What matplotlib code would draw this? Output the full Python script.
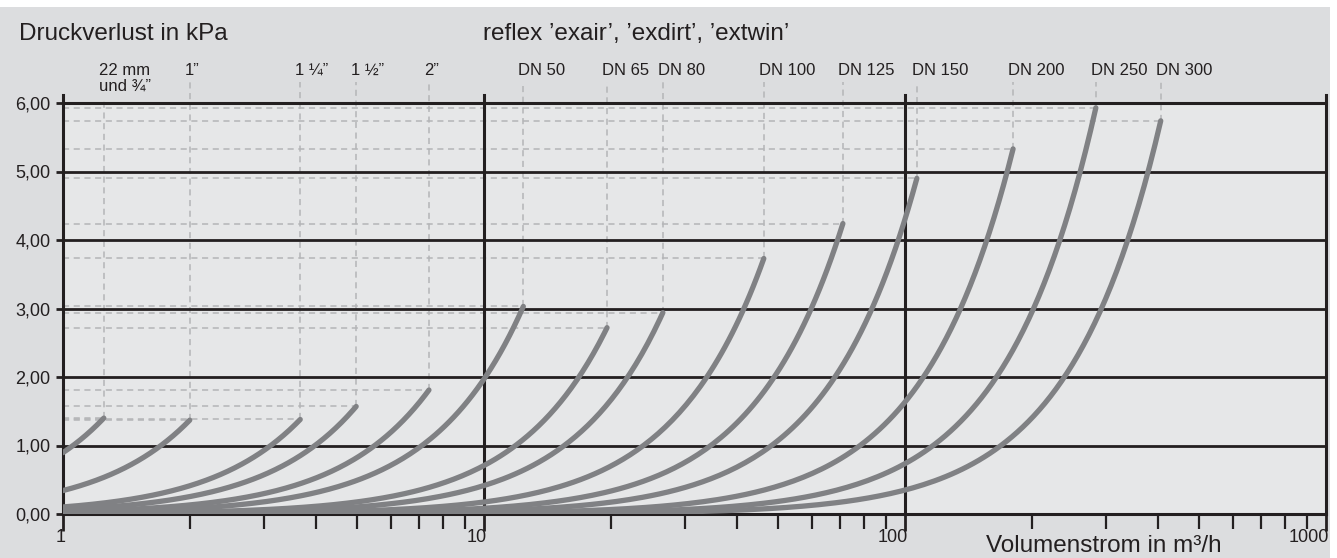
import numpy as np
import matplotlib
matplotlib.use("Agg")
import matplotlib.pyplot as plt
from matplotlib.patches import Rectangle
from matplotlib.transforms import offset_copy, blended_transform_factory

plt.rcParams["font.family"] = ["Liberation Sans", "DejaVu Sans"]

# pipe sizes, end point of each curve (max flow in m3/h, pressure drop in kPa)
pipe_labels = ["22 mm\nund ¾”", "1”", "1 ¼”", "1 ½”", "2”",
               "DN 50", "DN 65", "DN 80", "DN 100", "DN 125",
               "DN 150", "DN 200", "DN 250", "DN 300"]
q_max = [1.25, 2.0, 3.66, 4.97, 7.4, 12.4, 19.6, 26.6, 46.2, 71.2,
         106.7, 180.6, 284, 405]
dp_max = [1.40, 1.37, 1.38, 1.57, 1.81, 3.03, 2.72, 2.94, 3.73, 4.24,
          4.90, 5.33, 5.93, 5.74]

y_ticks = [0, 1, 2, 3, 4, 5, 6]
x_decades = [1, 10, 100, 1000]

INK = "#231f20"
CURVE = "#808184"
DASH = "#b4b5b7"

fig = plt.figure(figsize=(13.37, 5.58), dpi=100, facecolor="white")
fig.patches.append(Rectangle((0, 0), 1330 / 1337, 551 / 558, transform=fig.transFigure,
                             facecolor="#dcdddf", edgecolor="none", zorder=-10))

ax = fig.add_axes([63 / 1337, 1 - 514 / 558, (1326 - 63) / 1337, (514 - 103) / 558])
ax.set_facecolor("#e6e7e8")
ax.set_xscale("log")
ax.set_xlim(1, 1000)
ax.set_ylim(0, 6)

for s in ["left", "right"]:
    ax.spines[s].set_visible(False)
for s in ["top", "bottom"]:
    ax.spines[s].set_color(INK)
    ax.spines[s].set_linewidth(2.2)

# black grid
for v in y_ticks[1:-1]:
    ax.axhline(v, color=INK, lw=2.0, zorder=2)
for d in x_decades:
    ax.axvline(d, ymin=0, ymax=1 + 8 / 411, color=INK, lw=2.2, clip_on=False, zorder=2)

# dashed guides + curves
for lab, q, dp in zip(pipe_labels, q_max, dp_max):
    top = 6.08 if "\n" in lab else 6.31
    ax.plot([q, q], [dp, top], color=DASH, lw=1.1, dashes=(4, 3), clip_on=False, zorder=1)
    ax.plot([1, q], [dp, dp], color=DASH, lw=1.1, dashes=(4, 3), zorder=1)
    k = dp / q ** 2
    qq = np.logspace(0, np.log10(q), 200)
    ax.plot(qq, k * qq ** 2, color=CURVE, lw=3.8, solid_capstyle="round", zorder=3)
    for i, line in enumerate(lab.split("\n")):
        ax.annotate(line, xy=(q, 6), xytext=(-5, 28 - 16 * i), textcoords="offset pixels",
                    ha="left", va="baseline", fontsize=12, color=INK, annotation_clip=False)

# y axis ticks
ax.set_yticks(y_ticks)
ax.set_yticklabels([f"{v:.2f}".replace(".", ",") for v in y_ticks])
ax.tick_params(axis="y", length=5, width=2, color=INK, pad=4, labelsize=13, labelcolor=INK)

# x axis ticks
ax.xaxis.set_major_locator(matplotlib.ticker.FixedLocator(x_decades))
ax.xaxis.set_minor_locator(matplotlib.ticker.LogLocator(base=10, subs=np.arange(2, 10)))
ax.xaxis.set_major_formatter(matplotlib.ticker.NullFormatter())
ax.xaxis.set_minor_formatter(matplotlib.ticker.NullFormatter())
ax.tick_params(axis="x", which="major", length=12, width=2, color=INK)
ax.tick_params(axis="x", which="minor", length=11, width=1.6, color=INK)
tr = offset_copy(blended_transform_factory(ax.transData, ax.transAxes), fig=fig, x=3, y=-24, units="dots")
for d in x_decades:
    ax.text(d, 0, str(d), transform=tr, ha="right", va="center", fontsize=13, color=INK)

fig.text(19 / 1337, 1 - 40 / 558, "Druckverlust in kPa", fontsize=17.5, color=INK, va="baseline")
fig.text(483 / 1337, 1 - 40 / 558, "reflex ’exair’, ’exdirt’, ’extwin’", fontsize=17.5,
         color=INK, va="baseline")
fig.text(986 / 1337, 1 - 552 / 558, "Volumenstrom in m³/h", fontsize=17.5, color=INK, va="baseline")

fig.savefig("out.png", dpi=100, facecolor=fig.get_facecolor())
